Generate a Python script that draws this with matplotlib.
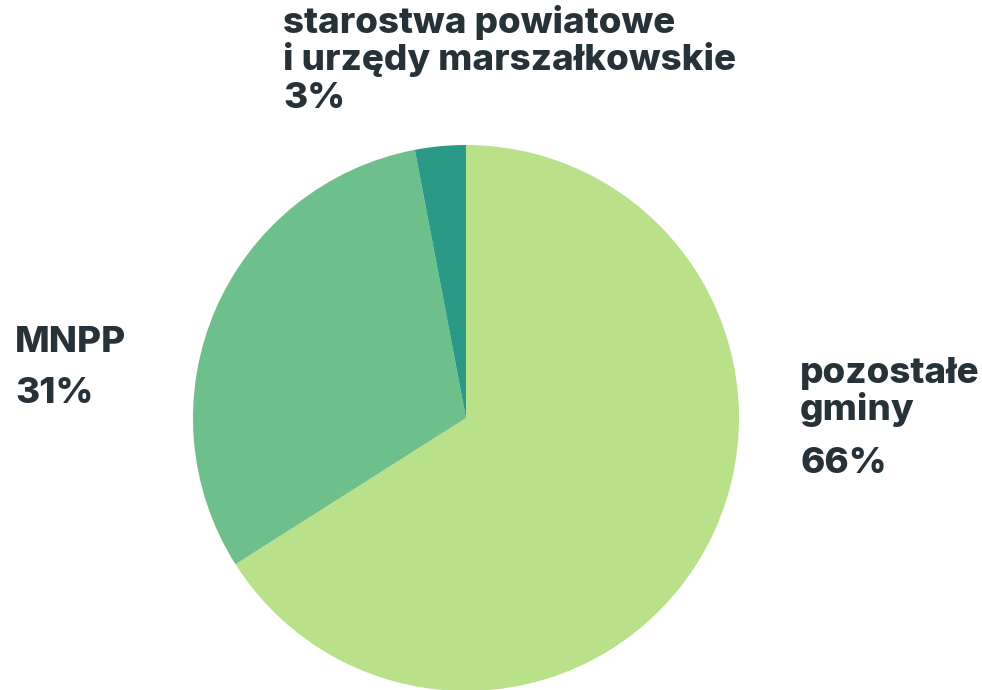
import matplotlib
matplotlib.use("Agg")
import matplotlib.pyplot as plt
from matplotlib import font_manager as fm

labels = ["pozostałe gminy", "MNPP", "starostwa powiatowe i urzędy marszałkowskie"]
values = [66, 31, 3]
colors = ["#b9e18a", "#6dbf8b", "#2a9a87"]
text_color = "#263238"

W, H = 982, 690
fig = plt.figure(figsize=(W / 100, H / 100), dpi=100)
cx, cy, r = 466, 418, 273
ax = fig.add_axes([(cx - r) / W, (H - cy - r) / H, 2 * r / W, 2 * r / H])
ax.pie(values, colors=colors, startangle=90, counterclock=False,
       wedgeprops=dict(linewidth=0))
ax.set_xlim(-1, 1)
ax.set_ylim(-1, 1)
ax.set_aspect("equal")
ax.axis("off")

font = dict(family=["Inter", "DejaVu Sans"], fontweight="heavy", color=text_color,
            fontsize=26.5, va="baseline", ha="left")

def put(x, y, s):
    fig.text(x / W, 1 - y / H, s, **font)

put(283, 33, "starostwa powiatowe")
put(283, 70, "i urzędy marszałkowskie")
put(283, 108, f"{values[2]}%")
put(15, 352, "MNPP")
put(15, 403, f"{values[1]}%")
put(800, 383, "pozostałe")
put(800, 420, "gminy")
put(800, 473, f"{values[0]}%")

fig.savefig("out.png", dpi=100)
